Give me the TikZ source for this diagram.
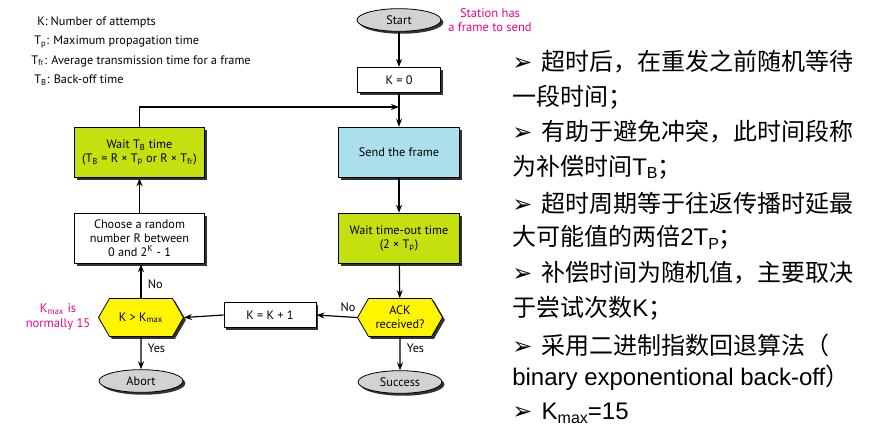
\documentclass[tikz,border=0pt]{standalone}
\usepackage{fontspec}
\setmainfont{PT Sans}
\newfontfamily\cjk{Noto Sans CJK SC}
\newfontfamily\arial{Liberation Sans}
\newfontfamily\symb{DejaVu Sans}
\usetikzlibrary{shapes.geometric,shapes.symbols,shadows,arrows.meta}

\definecolor{limegreen}{HTML}{C5E00F}
\definecolor{skyblue}{HTML}{ACDFEC}
\definecolor{hexyellow}{HTML}{FFF500}
\definecolor{pinktext}{HTML}{EC008C}
\definecolor{ovalgray}{HTML}{D2D2D2}

\newcommand{\bul}{{\symb\fontsize{18}{18}\selectfont ➢}\hspace{7pt}}
\newcommand{\lowidx}[1]{\raisebox{-0.3ex}{\fontsize{12}{12}\selectfont #1}}

\begin{document}
\begin{tikzpicture}[x=0.75pt,y=0.75pt,yscale=-1,xscale=1,
  >={Stealth[length=6pt,width=4.5pt]},
  flow/.style={draw, line width=0.6pt, align=center, inner sep=0.75pt, font=\fontsize{9.2}{10.6}\selectfont, general shadow={fill=black!80, shadow xshift=1.8pt, shadow yshift=-1.8pt}},
  bigbox/.style={flow, minimum width=98pt, minimum height=38pt},
  midbox/.style={flow, minimum width=91pt, minimum height=38pt},
  smallbox/.style={flow, fill=white, minimum height=19pt},
  oval/.style={flow, ellipse, fill=ovalgray, minimum width=63pt, minimum height=17pt},
  hexa/.style={flow, signal, signal to=east and west, signal pointer angle=120, fill=hexyellow, minimum width=63.75pt, minimum height=28.5pt},
  note/.style={text=pinktext, align=center, inner sep=0.75pt, font=\fontsize{9.4}{10.8}\selectfont},
  legend/.style={anchor=west, inner sep=0.75pt, font=\fontsize{9.2}{10}\selectfont},
  yesno/.style={inner sep=0.75pt, font=\fontsize{9.2}{10}\selectfont},
  cnline/.style={anchor=west, inner sep=0pt, font=\fontsize{18}{20}\selectfont}
]
\useasboundingbox (0,0) rectangle (877,440);

% Legend
\draw (36,22) node [legend] (lk) {K: Number of attempts};
\draw (33,42) node [legend] (ltp) {T\textsubscript{p}: Maximum propagation time};
\draw (30,61) node [legend] (ltfr) {T\textsubscript{fr}: Average transmission time for a frame};
\draw (33,80) node [legend] (ltb) {T\textsubscript{B}: Back-off time};

% Right column
\draw (399,20) node [oval] (start) {Start};
\draw (399,80) node [smallbox, minimum width=62pt] (kzero) {K = 0};
\draw (399,152.5) node [midbox, fill=skyblue] (send) {Send the frame};
\draw (399,238.5) node [midbox, fill=limegreen] (waitout) {Wait time-out time\\(2 × T\textsubscript{p})};
\draw (400,317.5) node [hexa] (ack) {ACK\\received?};
\draw (400,382) node [oval] (success) {Success};

% Left column
\draw (139.5,152.5) node [bigbox, fill=limegreen] (waitb) {Wait T\textsubscript{B} time\\(T\textsubscript{B} = R × T\textsubscript{p} or R × T\textsubscript{fr})};
\draw (139.5,238.5) node [bigbox, fill=white] (choose) {Choose a random\\number R between\\0 and 2\textsuperscript{K} - 1};
\draw (141,317.5) node [hexa] (kmax) {K > K\textsubscript{max}};
\draw (141,381) node [oval] (abort) {Abort};
\draw (270,315) node [smallbox, minimum width=69pt] (kinc) {K = K + 1};

% Notes
\draw (490,20) node [note] (station) {Station has\\a frame to send};
\draw (58,317) node [note] (kmaxnote) {K\textsubscript{max} is\\normally 15};

\coordinate (merge) at (kzero.south |- 0,107);

%Straight Lines
\draw [line width=0.9pt, ->] (start) -- (kzero);
\draw [line width=0.9pt, ->] (kzero) -- (send);
\draw [line width=0.9pt, ->] (waitb.north) |- (merge);
\draw [line width=0.9pt, ->] (send) -- (waitout);
\draw [line width=0.9pt, ->] (waitout) -- (ack);
\draw [line width=0.9pt, ->] (ack) -- (success) node [yesno, pos=0.35, right=4pt] (yes1) {Yes};
\draw [line width=0.9pt, ->] (ack.west) -- (kinc.east) node [yesno, pos=0.22, above=3pt] (no1) {No};
\draw [line width=0.9pt, ->] (kinc.west) -- (kmax.east);
\draw [line width=0.9pt, ->] (kmax.north) -- (kmax.north |- choose.south) node [yesno, pos=0.4, right=4pt] (no2) {No};
\draw [line width=0.9pt, ->] (kmax) -- (abort) node [yesno, pos=0.35, right=4pt] (yes2) {Yes};
\draw [line width=0.9pt, ->] (choose) -- (waitb);

% Text Node
\draw (512,62) node [cnline] (tx1) {\bul{\cjk 超时后，在重发之前随机等待}};
\draw (512,97) node [cnline] (tx2) {{\cjk 一段时间；}};
\draw (512,132) node [cnline] (tx3) {\bul{\cjk 有助于避免冲突，此时间段称}};
\draw (512,167) node [cnline] (tx4) {{\cjk 为补偿时间}{\arial T\lowidx{B}}{\cjk ；}};
\draw (512,203) node [cnline] (tx5) {\bul{\cjk 超时周期等于往返传播时延最}};
\draw (512,237) node [cnline] (tx6) {{\cjk 大可能值的两倍}{\arial 2T\lowidx{P}}{\cjk ；}};
\draw (512,273) node [cnline] (tx7) {\bul{\cjk 补偿时间为随机值，主要取决}};
\draw (512,308) node [cnline] (tx8) {{\cjk 于尝试次数}{\arial K}{\cjk ；}};
\draw (512,345) node [cnline] (tx9) {\bul{\cjk 采用二进制指数回退算法（}};
\draw (512,378) node [cnline] (tx10) {{\arial binary exponentional back-off}{\cjk ）}};
\draw (512,413) node [cnline] (tx11) {\bul{\arial K\lowidx{max}=15}};

\end{tikzpicture}
\end{document}
